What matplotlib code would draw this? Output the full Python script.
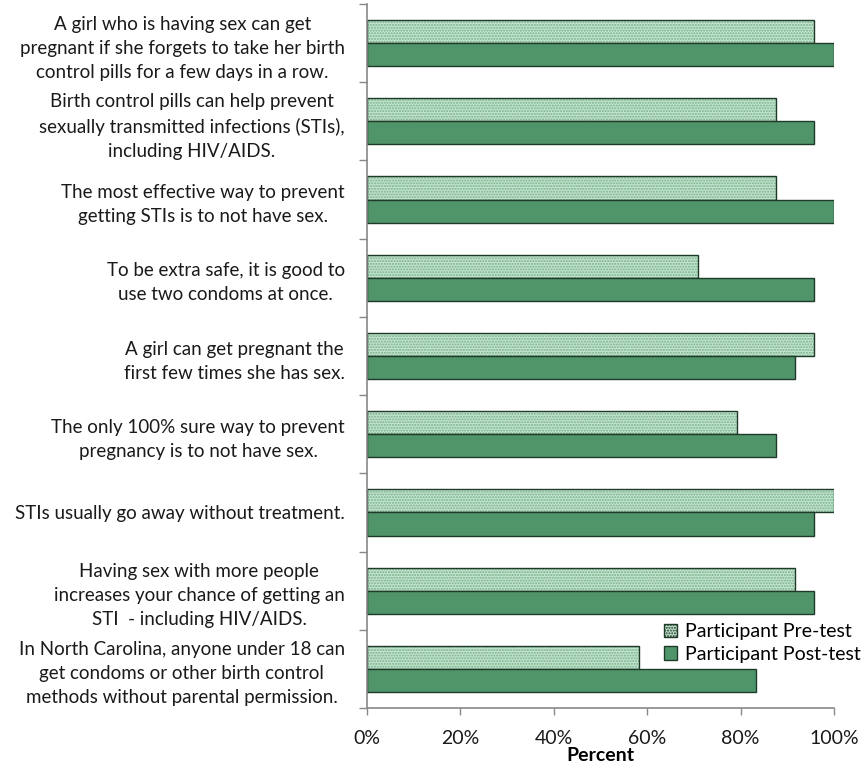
import matplotlib.pyplot as plt
import numpy as np
from matplotlib.patches import Patch

plt.rcParams['font.family'] = ['Lato', 'DejaVu Sans']

statements = [
    "A girl who is having sex can get\npregnant if she forgets to take her birth\ncontrol pills for a few days in a row.",
    "Birth control pills can help prevent\nsexually transmitted infections (STIs),\nincluding HIV/AIDS.",
    "The most effective way to prevent\ngetting STIs is to not have sex.",
    "To be extra safe, it is good to\nuse two condoms at once.",
    "A girl can get pregnant the\nfirst few times she has sex.",
    "The only 100% sure way to prevent\npregnancy is to not have sex.",
    "STIs usually go away without treatment.",
    "Having sex with more people\nincreases your chance of getting an\nSTI  - including HIV/AIDS.",
    "In North Carolina, anyone under 18 can\nget condoms or other birth control\nmethods without parental permission.",
]
pre_test = [95.8, 87.5, 87.5, 70.8, 95.8, 79.2, 100.0, 91.7, 58.3]
post_test = [100.0, 95.8, 100.0, 95.8, 91.7, 87.5, 95.8, 95.8, 83.3]
xticks = [0, 20, 40, 60, 80, 100]

fig = plt.figure(figsize=(8.68, 7.67), dpi=100)
ax = fig.add_axes([0.4228, 0.0769, 0.538, 0.9179])

y = np.arange(len(statements))
h = 0.295
edge = '#1e3a28'
pre_col = '#c4e4ce'
post_col = '#50956a'

# pre-test bars: hatched fill, then a separate dark outline
ax.barh(y - h / 2, pre_test, height=h, color=pre_col, edgecolor='#76b08b',
        hatch='......', linewidth=0)
ax.barh(y - h / 2, pre_test, height=h, fill=False, edgecolor=edge, linewidth=1.0)
ax.barh(y + h / 2, post_test, height=h, color=post_col, edgecolor=edge, linewidth=1.0)

ax.set_xlim(0, 100)
ax.set_ylim(len(statements) - 0.5, -0.5)

ax.set_yticks(y)
ax.set_yticklabels(statements, multialignment='center', linespacing=1.5,
                   fontsize=13.5, color='#1a1a1a')
ax.set_yticks(np.arange(len(statements) + 1) - 0.5, minor=True)
ax.tick_params(axis='y', which='major', length=0, pad=16)
ax.tick_params(axis='y', which='minor', length=6, color='#888888', width=1)

ax.set_xticks(xticks)
ax.set_xticklabels([f"{t}%" for t in xticks], fontsize=14, color='#1a1a1a')
ax.tick_params(axis='x', length=5, color='#888888', width=1, pad=11)
ax.set_xlabel('Percent', fontsize=14, fontweight='bold', labelpad=0)

for side in ['top', 'right']:
    ax.spines[side].set_visible(False)
for side in ['left', 'bottom']:
    ax.spines[side].set_color('#888888')
    ax.spines[side].set_linewidth(1.2)

handles = [
    Patch(facecolor=pre_col, edgecolor=edge, hatch='......', label='Participant Pre-test'),
    Patch(facecolor=post_col, edgecolor=edge, label='Participant Post-test'),
]
ax.legend(handles=handles, loc='upper right', bbox_to_anchor=(1.078, 0.134),
          frameon=False, fontsize=14, handlelength=0.7, handleheight=0.7,
          handletextpad=0.4, labelspacing=0.28, borderpad=0)

fig.savefig('out.png', dpi=100, facecolor='white')
